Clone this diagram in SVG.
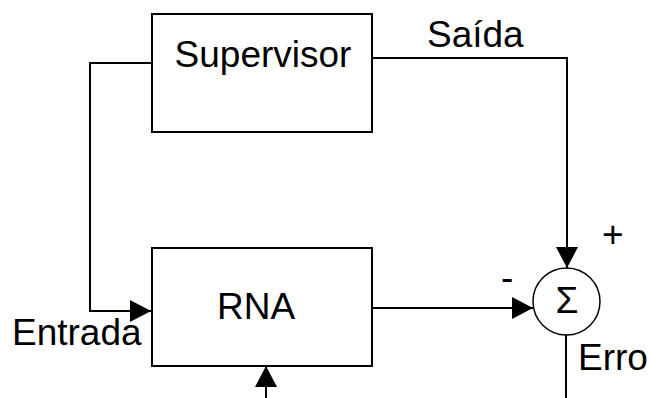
<svg xmlns="http://www.w3.org/2000/svg" width="650" height="398" viewBox="0 0 650 398">
<defs>
<style>
.box{fill:#fff;stroke:#000;stroke-width:2}
.ln{fill:none;stroke:#000;stroke-width:2}
.t{font-family:"Liberation Sans",Arial,sans-serif;font-size:37px;fill:#000}
</style>
<marker id="ah" markerWidth="21" markerHeight="22" refX="21" refY="11" orient="auto" markerUnits="userSpaceOnUse">
<path d="M0,0 L21,11 L0,22 Z" fill="#000"/>
</marker>
</defs>
<rect width="650" height="398" fill="#fff"/>
<g id="connectors">
<polyline class="ln" points="152,63 90,63 90,311 151,311" marker-end="url(#ah)"/>
<polyline class="ln" points="372,58 567,58 567,268" marker-end="url(#ah)"/>
<line class="ln" x1="372" y1="308" x2="533" y2="308" marker-end="url(#ah)"/>
<line class="ln" x1="266" y1="398" x2="266" y2="366" marker-end="url(#ah)"/>
<line class="ln" x1="566" y1="335" x2="566" y2="398"/>
</g>
<g id="supervisor">
<rect class="box" x="152" y="14" width="220" height="118"/>
<text class="t" x="263" y="67" text-anchor="middle">Supervisor</text>
</g>
<g id="rna">
<rect class="box" x="152" y="248" width="220" height="118"/>
<text class="t" x="256" y="319" text-anchor="middle">RNA</text>
</g>
<g id="sum">
<circle cx="566.5" cy="301.5" r="33.5" fill="#fff" stroke="#000" stroke-width="1.5"/>
<text class="t" x="567" y="313" text-anchor="middle" font-size="36">Σ</text>
</g>
<g id="labels">
<text class="t" x="427" y="47">Saída</text>
<text class="t" x="12" y="345">Entrada</text>
<text class="t" x="578" y="370">Erro</text>
<text class="t" x="602" y="247">+</text>
<text class="t" x="501" y="290">-</text>
</g>
</svg>
